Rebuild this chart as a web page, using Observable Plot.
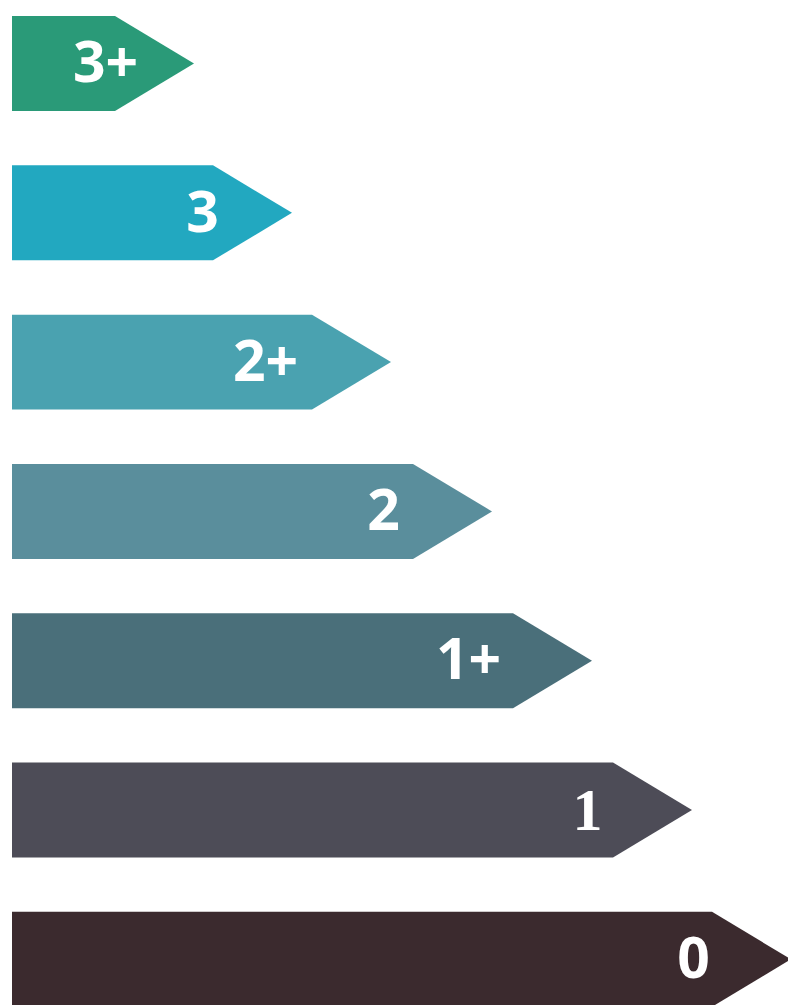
<!DOCTYPE html>
<html>
<head>
<meta charset="utf-8">
<script src="https://cdn.jsdelivr.net/npm/d3@7"></script>
<script src="https://cdn.jsdelivr.net/npm/@observablehq/plot@0.6"></script>
<style>
  html, body { margin: 0; padding: 0; background: #ffffff; }
</style>
</head>
<body>
<div id="chart"></div>
<script>
// Categories (top to bottom)
const labels = ["3+", "3", "2+", "2", "1+", "1", "0"];
// Length of the rectangular body of each arrow (x units)
const values = [1.03, 2.01, 3.00, 4.01, 5.01, 6.01, 7.00];
// Where each label sits along the bar (x units)
const labelPos = [0.93, 1.90, 2.53, 3.71, 4.56, 5.75, 6.81];
// Arrow colours
const colors = ["#2a9a78", "#22a8c0", "#4aa2b0", "#5a8e9c", "#4a6f7a", "#4d4c57", "#3b2a2e"];

const tipLength = 0.79;   // arrow head length in x units
const halfBand = 0.318;   // half of bar thickness in y units (1 unit = one row)

// Build the outline of every arrow as an areaX profile
const shapes = labels.flatMap((label, i) => [
  {label, color: colors[i], y: i - halfBand, base: 0, x: values[i]},
  {label, color: colors[i], y: i,            base: 0, x: values[i] + tipLength},
  {label, color: colors[i], y: i + halfBand, base: 0, x: values[i]}
]);

const texts = labels.map((label, i) => ({label, x: labelPos[i], y: i}));

const chart = Plot.plot({
  width: 788,
  height: 1005,
  marginTop: 0,
  marginBottom: 0,
  marginRight: 0,
  marginLeft: 12,
  x: {domain: [0, 7.76], axis: null},
  y: {domain: [-0.4253, 6.306], reverse: true, axis: null},
  style: {background: "#ffffff"},
  marks: [
    Plot.areaX(shapes, {y: "y", x1: "base", x2: "x", z: "label", fill: "color", curve: "linear"}),
    Plot.text(texts.filter(d => d.label !== "1"), {
      x: "x", y: "y", text: "label", fill: "white",
      fontSize: 57, fontWeight: "bold", fontFamily: "'Open Sans', 'DejaVu Sans', sans-serif"
    }),
    Plot.text(texts.filter(d => d.label === "1"), {
      x: "x", y: "y", text: "label", fill: "white",
      fontSize: 60, fontWeight: "bold", fontFamily: "'Liberation Serif', 'DejaVu Serif', serif"
    })
  ]
});
document.getElementById("chart").appendChild(chart);
</script>
</body>
</html>
